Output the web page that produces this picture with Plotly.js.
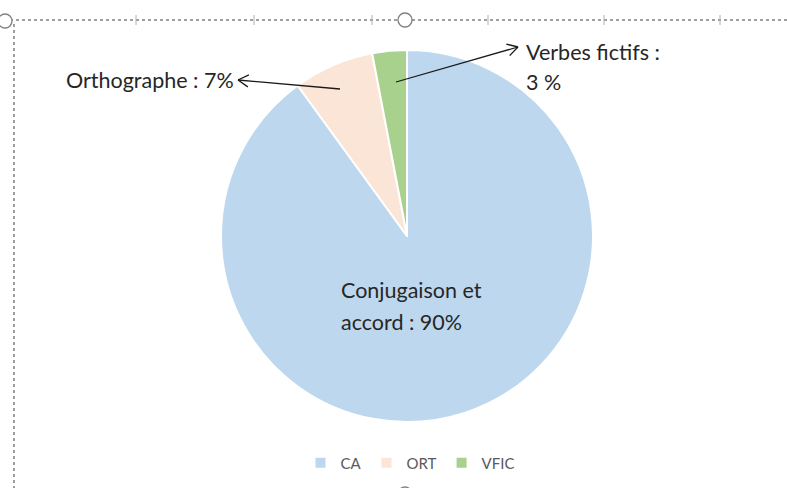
<!DOCTYPE html>
<html><head><meta charset="utf-8">
<script src="https://cdn.plot.ly/plotly-3.0.1.min.js"></script>
<style>html,body{margin:0;padding:0;background:#fff}#chart{width:787px;height:488px}</style>
</head><body><div id="chart"></div>
<script>
const categories = ['CA', 'ORT', 'VFIC'];
const shares = [90, 7, 3];
const sliceColors = ['#BDD7EE', '#FBE5D6', '#A9D18E'];
const labelTexts = ['Conjugaison et', 'accord : 90%', 'Orthographe : 7%', 'Verbes fictifs :', '3 %'];

const W = 787, H = 488;
const px = x => x / W, py = y => 1 - y / H;
const FONT = 'Lato, "Liberation Sans", sans-serif';
const TXT = '#262626';

function textAnn(t, x, y, anchor) {
  return {text: t, xref: 'paper', yref: 'paper', x: px(x), y: py(y), xanchor: anchor || 'left', yanchor: 'middle',
    showarrow: false, font: {family: FONT, size: 21.5, color: TXT}};
}
function line(x0, y0, x1, y1, opts) {
  return Object.assign({type: 'line', xref: 'paper', yref: 'paper', x0: px(x0), y0: py(y0), x1: px(x1), y1: py(y1),
    line: {color: '#1a1a1a', width: 1.3}}, opts || {});
}
function arrow(x0, y0, x1, y1) {
  const dx = x0 - x1, dy = y0 - y1, L = Math.hypot(dx, dy);
  const ux = dx / L, uy = dy / L, a = Math.PI / 6, len = 12;
  const r1 = [x1 + len * (ux * Math.cos(a) - uy * Math.sin(a)), y1 + len * (ux * Math.sin(a) + uy * Math.cos(a))];
  const r2 = [x1 + len * (ux * Math.cos(-a) - uy * Math.sin(-a)), y1 + len * (ux * Math.sin(-a) + uy * Math.cos(-a))];
  return [line(x0, y0, x1, y1), line(r1[0], r1[1], x1, y1), line(r2[0], r2[1], x1, y1)];
}
function circle(cx, cy, r) {
  return {type: 'circle', xref: 'paper', yref: 'paper', x0: px(cx - r), x1: px(cx + r), y0: py(cy + r), y1: py(cy - r),
    fillcolor: '#fff', line: {color: '#7f7f7f', width: 1.3}};
}

const shapes = [
  line(10, 20, 787, 20, {line: {color: '#7f7f7f', width: 1.5, dash: 'dot'}}),
  line(14, 24, 14, 488, {line: {color: '#7f7f7f', width: 1.5, dash: 'dot'}}),
];
[136, 254, 372, 488, 604, 720].forEach(x => shapes.push(line(x, 15, x, 25, {line: {color: '#b0b0b0', width: 1}})));
shapes.push(circle(405, 20, 7), circle(5, 21, 7), circle(405, 494, 7));
shapes.push(...arrow(340, 89, 238, 80), ...arrow(396, 82, 518, 47));

const data = [{
  type: 'pie', labels: categories, values: shares, sort: false, direction: 'clockwise', rotation: 0,
  marker: {colors: sliceColors, line: {color: '#ffffff', width: 2}}, textinfo: 'none', hoverinfo: 'label+percent',
  domain: {x: [221 / W, 593 / W], y: [66 / H, 438 / H]}
}];

const layout = {
  width: W, height: H, margin: {l: 0, r: 0, t: 0, b: 0}, paper_bgcolor: '#fff',
  showlegend: true,
  legend: {orientation: 'h', x: px(410), xanchor: 'center', y: py(463), yanchor: 'middle',
    font: {family: FONT, size: 15, color: '#595959'}, itemwidth: 30, traceorder: 'normal'},
  shapes: shapes,
  annotations: [
    textAnn(labelTexts[0], 339, 290), textAnn(labelTexts[1], 339, 322),
    textAnn(labelTexts[2], 236, 80, 'right'),
    textAnn(labelTexts[3], 524, 52), textAnn(labelTexts[4], 524, 82)
  ]
};
Plotly.newPlot('chart', data, layout, {displayModeBar: false, staticPlot: true});
</script></body></html>
